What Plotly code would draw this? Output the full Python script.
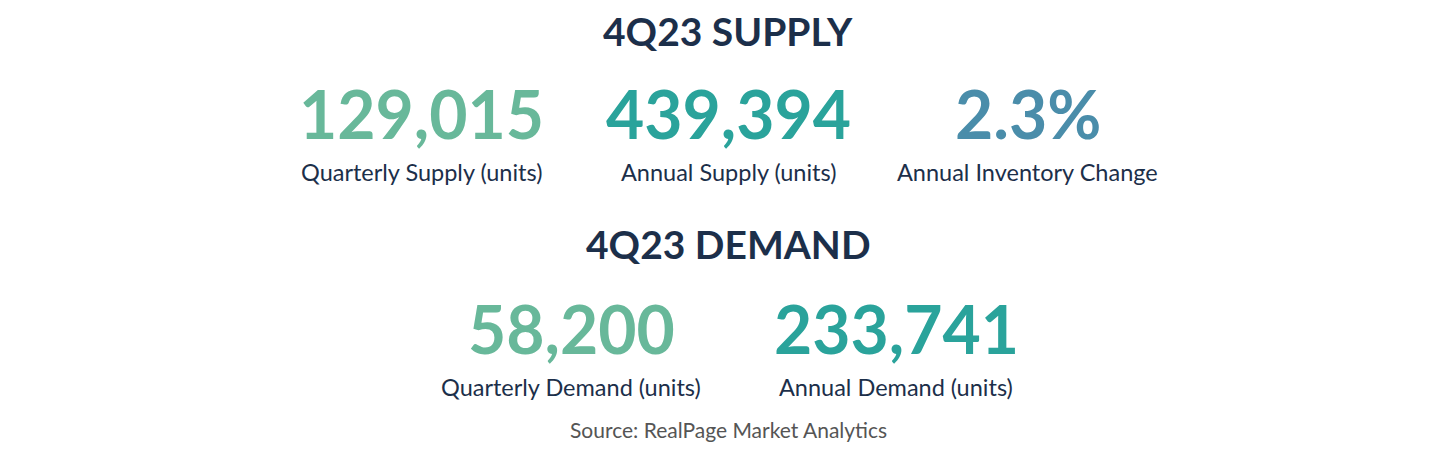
import plotly.graph_objects as go

W, H = 1455, 453

supply_labels = ["Quarterly Supply (units)", "Annual Supply (units)", "Annual Inventory Change"]
supply_values = ["129,015", "439,394", "2.3%"]
demand_labels = ["Quarterly Demand (units)", "Annual Demand (units)"]
demand_values = ["58,200", "233,741"]

colors = ["#68b89a", "#2aa39b", "#4a8daa"]
navy = "#1c2f4a"
font = "Lato, Open Sans, sans-serif"

fig = go.Figure()
DX = -7  # small horizontal correction


def add(text, x, y, size, color, bold=False):
    fig.add_annotation(
        text=f"<b>{text}</b>" if bold else text,
        x=(x + DX) / W, y=1 - y / H, xref="paper", yref="paper",
        showarrow=False, xanchor="center", yanchor="middle",
        font=dict(family=font, size=size, color=color),
    )


add("4Q23 SUPPLY", 727, 23, 39, navy, bold=True)
for i, (v, l) in enumerate(zip(supply_values, supply_labels)):
    cx = [420, 727, 1027][i]
    add(v, cx, 106, 66, colors[i], bold=True)
    add(l, cx, 164, 23.5, navy)

add("4Q23 DEMAND", 727, 236, 39, navy, bold=True)
for i, (v, l) in enumerate(zip(demand_values, demand_labels)):
    cx = [570, 895][i]
    add(v, cx, 320, 66, colors[i], bold=True)
    add(l, cx, 379, 23.5, navy)

add("Source: RealPage Market Analytics", 727, 421, 21, "#555555")

fig.update_xaxes(visible=False)
fig.update_yaxes(visible=False)
fig.update_layout(
    width=W, height=H, margin=dict(l=0, r=0, t=0, b=0),
    paper_bgcolor="white", plot_bgcolor="white",
)
fig.write_html("out.html")
